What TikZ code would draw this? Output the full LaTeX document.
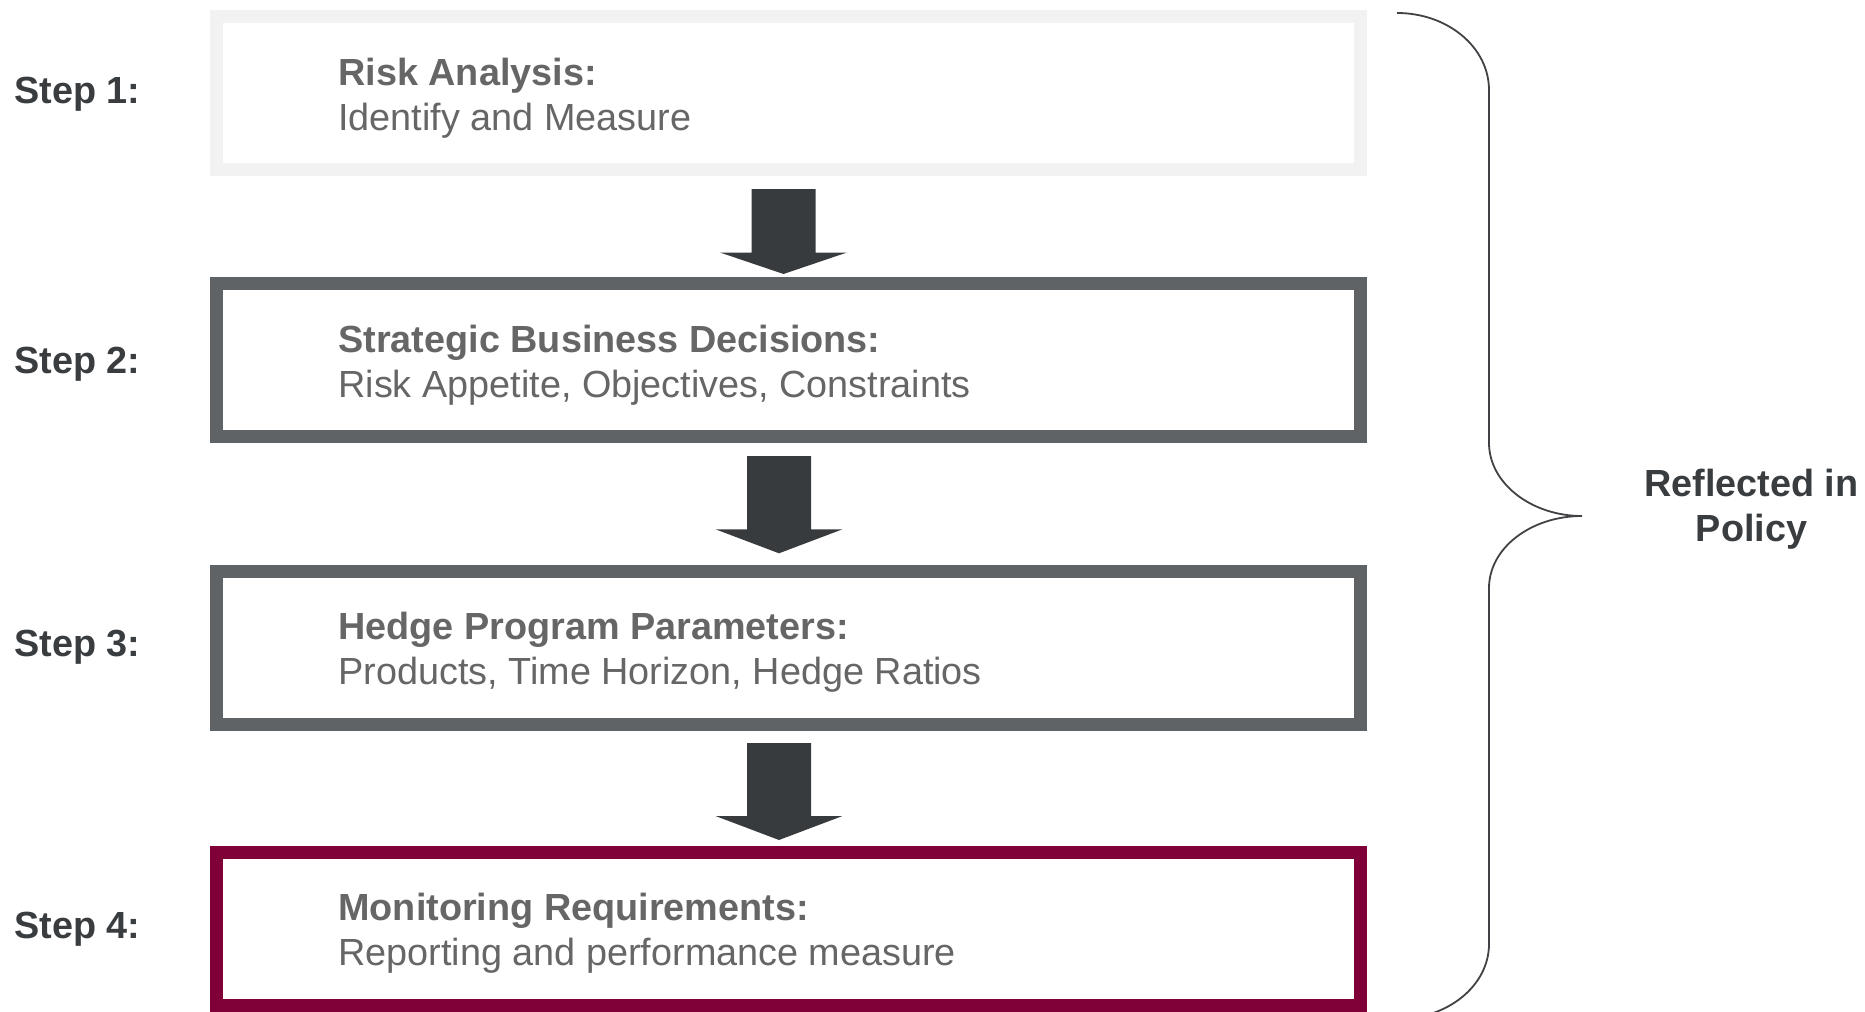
\documentclass[tikz,border=0pt]{standalone}
\usepackage{fontspec}
\setmainfont{Liberation Sans}
\definecolor{stepink}{RGB}{58,61,64}
\definecolor{bodyink}{RGB}{102,102,102}
\definecolor{arrowink}{RGB}{56,59,62}
\definecolor{lightframe}{RGB}{242,242,242}
\definecolor{midframe}{RGB}{96,99,102}
\definecolor{wineframe}{RGB}{128,0,56}
\definecolor{braceink}{RGB}{64,66,69}

% block arrow pointing down: centre x, shaft top, head base, tip
\newcommand\blockdown[4]{%
  \fill[arrowink] (#1-32,#2) -- (#1+32,#2) -- (#1+32,#3) -- (#1+63.5,#3)
    -- (#1,#4) -- (#1-63.5,#3) -- (#1-32,#3) -- cycle;}

\begin{document}
\begin{tikzpicture}[x=0.5pt,y=-0.5pt,
  stagebox/.style={draw, line width=6.5pt, fill=white, inner sep=0pt,
    minimum width=571.75pt, minimum height=76.5pt},
  steplabel/.style={anchor=base west, inner sep=0pt, text=stepink,
    font=\fontsize{18.9pt}{22.5pt}\selectfont\bfseries},
  stagetext/.style={anchor=base west, inner sep=0pt, align=left, text=bodyink,
    font=\fontsize{18.9pt}{22.5pt}\selectfont},
  sidelabel/.style={anchor=base, inner sep=0pt, align=center, text=stepink,
    font=\fontsize{18.9pt}{22.5pt}\selectfont\bfseries},
  bracepath/.style={draw=braceink, line width=0.9pt}]
\useasboundingbox (0,0) rectangle (1865,1012);
\clip (0,0) rectangle (1865,1012);

% stage frames
\node[stagebox, draw=lightframe] (b1) at (788.25,93) {};
\node[stagebox, draw=midframe]   (b2) at (788.25,360) {};
\node[stagebox, draw=midframe]   (b3) at (788.25,647.6) {};
\node[stagebox, draw=wineframe]  (b4) at (788.25,929) {};

% stage texts (base anchor sits on the second line)
\node[stagetext] (t1) at (338,130)   {\textbf{Risk Analysis:}\\Identify and Measure};
\node[stagetext] (t2) at (338,397)   {\textbf{Strategic Business Decisions:}\\Risk Appetite, Objectives, Constraints};
\node[stagetext] (t3) at (338,684.5) {\textbf{Hedge Program Parameters:}\\Products, Time Horizon, Hedge Ratios};
\node[stagetext] (t4) at (338,965.5) {\textbf{Monitoring Requirements:}\\Reporting and performance measure};

% step labels
\node[steplabel] (s1) at (14,103.3) {Step 1:};
\node[steplabel] (s2) at (14,373.3) {Step 2:};
\node[steplabel] (s3) at (14,656)   {Step 3:};
\node[steplabel] (s4) at (14,938)   {Step 4:};

% arrows between stages
\blockdown{783.5}{189}{252.5}{274}
\blockdown{779}{456}{529.3}{553.3}
\blockdown{779}{743}{816}{840}

% curly brace and its label
\coordinate (bracetip) at (1582,516);
\draw[bracepath] (1397,13) .. controls (1448,13) and (1489,47.5) .. (1489,90)
  -- (1489,443) .. controls (1489,483) and (1531,516) .. (bracetip)
  .. controls (1531,516) and (1489,548) .. (1489,588)
  -- (1489,944) .. controls (1489,985.5) and (1448,1019) .. (1397,1019);
\node[sidelabel] (policy) at (1751.5,541.5) {Reflected in\\Policy};
\end{tikzpicture}
\end{document}
